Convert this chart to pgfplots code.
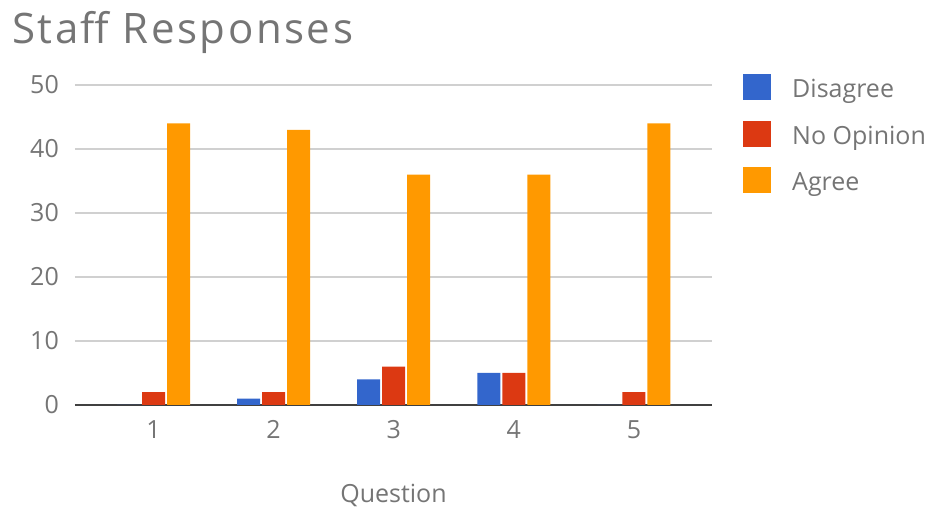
\documentclass[border=0pt]{standalone}
\usepackage{fontspec}
\setmainfont{Open Sans}
\usepackage{pgfplots}
\pgfplotsset{compat=1.18}

\definecolor{gblue}{HTML}{3366CC}
\definecolor{gred}{HTML}{DC3912}
\definecolor{gorange}{HTML}{FF9900}
\definecolor{txtgray}{HTML}{757575}
\definecolor{gridgray}{HTML}{D0D0D0}
\definecolor{basegray}{HTML}{404040}

\begin{document}
\begin{tikzpicture}[x=1pt,y=1pt]
\useasboundingbox (-75,-103) rectangle (859,405);
\begin{axis}[
  at={(0,0)}, anchor=south west,
  scale only axis, width=637pt, height=320pt,
  xmin=0.346, xmax=5.650, ymin=0, ymax=50,
  xtick={1,2,3,4,5}, ytick={0,10,20,30,40,50},
  axis x line*=bottom, axis y line*=left,
  x axis line style={draw=basegray, line width=1.6pt},
  y axis line style={draw=none},
  major tick length=0pt, tick style={draw=none},
  ymajorgrids, grid style={gridgray, line width=1.2pt},
  /pgf/number format/assume math mode=true,
  ticklabel style={font=\fontsize{25}{25}\selectfont, text=txtgray, inner sep=0pt},
  yticklabel style={anchor=east, xshift=-16pt},
  xticklabel style={anchor=north, yshift=-15pt},
  xlabel={Question},
  every axis x label/.style={at={(axis description cs:0.5,0)}, anchor=base,
    yshift=-97pt, font=\fontsize{25}{25}\selectfont, text=txtgray, inner sep=0pt},
  title={Staff Responses},
  every axis title/.style={at={(axis description cs:0,1)}, anchor=base west,
    xshift=-63pt, yshift=41pt,
    font=\fontsize{42}{42}\selectfont\addfontfeature{LetterSpace=6},
    text=txtgray, inner sep=0pt},
  ybar=2pt, bar width=23pt,
  legend style={at={(axis description cs:0,0)}, anchor=north west,
    xshift=668pt, yshift=331pt, draw=none, fill=none, inner sep=0pt,
    font=\fontsize{25}{25}\selectfont, text=txtgray, row sep=18pt,
    nodes={inner sep=0pt, text height=20pt, text depth=5pt},
    /tikz/every odd column/.append style={column sep=21pt}},
  legend cell align=left,
  legend image code/.code={\fill[#1] (0pt,-10pt) rectangle (28pt,16pt);},
]
\addplot[fill=gblue, draw=none] coordinates {(1,0) (2,1) (3,4) (4,5) (5,0)};
\addplot[fill=gred, draw=none] coordinates {(1,2) (2,2) (3,6) (4,5) (5,2)};
\addplot[fill=gorange, draw=none] coordinates {(1,44) (2,43) (3,36) (4,36) (5,44)};
\legend{Disagree, No Opinion, Agree}
\end{axis}
\end{tikzpicture}
\end{document}
